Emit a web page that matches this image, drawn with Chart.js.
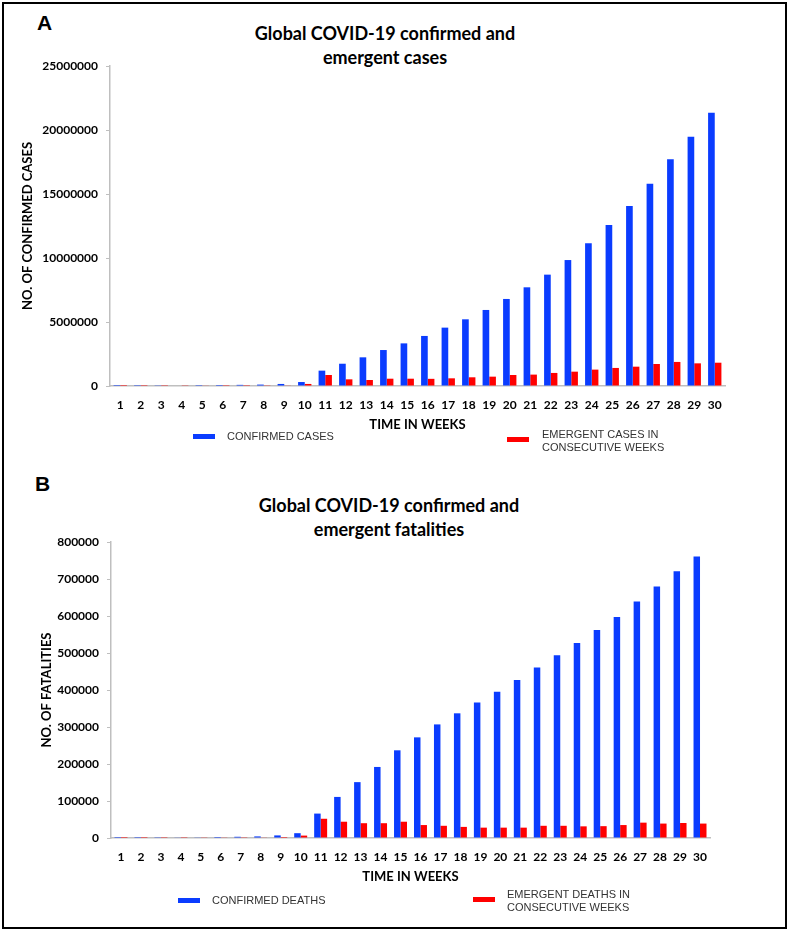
<!DOCTYPE html>
<html>
<head>
<meta charset="utf-8">
<script src="https://cdn.jsdelivr.net/npm/chart.js@4.4.1/dist/chart.umd.min.js"></script>
<style>
  body { margin: 0; background: #fff; width: 789px; height: 932px; position: relative; overflow: hidden; }
  #frame { position: absolute; left: 2px; top: 2px; width: 781px; height: 923px; border: 2px solid #000; }
  canvas { position: absolute; left: 0; }
  .panel { position: absolute; font: bold 21px "Liberation Sans", Arial, sans-serif; color: #000; }
  .title { position: absolute; width: 400px; text-align: center; font: bold 18px Lato, sans-serif; line-height: 24px; color: #000; }
  .legend { position: absolute; font: 11px "Liberation Sans", Arial, sans-serif; color: #333; line-height: 13px; }
  .legend i { position: absolute; left: 0; width: 22px; height: 5px; }
  .legend span { position: absolute; white-space: nowrap; }
</style>
</head>
<body>
<div id="frame"></div>

<div class="panel" style="left:37px; top:11px;">A</div>
<div class="title" style="left:185px; top:21px;">Global COVID-19 confirmed and<br>emergent cases</div>
<canvas id="chartA" width="789" height="466" style="top:0"></canvas>
<div class="legend" id="legA1" style="left:193px; top:434px;"></div>
<div class="legend" id="legA2" style="left:507px; top:437px;"></div>

<div class="panel" style="left:35px; top:472px;">B</div>
<div class="title" style="left:189px; top:493px;">Global COVID-19 confirmed and<br>emergent fatalities</div>
<canvas id="chartB" width="789" height="466" style="top:466px"></canvas>
<div class="legend" id="legB1" style="left:178px; top:898px;"></div>
<div class="legend" id="legB2" style="left:473px; top:897px;"></div>

<script>
// weeks
const weeks = ['1','2','3','4','5','6','7','8','9','10','11','12','13','14','15',
               '16','17','18','19','20','21','22','23','24','25','26','27','28','29','30'];

// A - cases
const confirmedCases = [600, 8000, 20000, 40000, 70000, 80000, 90000, 110000, 160000, 310000,
  1200000, 1740000, 2240000, 2810000, 3330000, 3910000, 4560000, 5210000, 5940000, 6800000,
  7710000, 8700000, 9840000, 11150000, 12580000, 14060000, 15810000, 17710000, 19480000, 21350000];
const emergentCases = [600, 7000, 12000, 20000, 30000, 10000, 10000, 20000, 50000, 160000,
  860000, 520000, 470000, 570000, 570000, 560000, 600000, 680000, 730000, 860000,
  890000, 1020000, 1120000, 1280000, 1410000, 1510000, 1720000, 1880000, 1770000, 1820000];

// B - deaths
const confirmedDeaths = [20, 170, 560, 1000, 1800, 2700, 3300, 4300, 7000, 13000,
  66000, 111000, 151000, 192000, 237000, 272000, 307000, 337000, 366000, 395000,
  427000, 461000, 494000, 527000, 562000, 597000, 639000, 680000, 721000, 761000];
const emergentDeaths = [20, 150, 390, 440, 800, 900, 600, 1000, 2700, 6500,
  52000, 44000, 40000, 40000, 44000, 35000, 33000, 30000, 28000, 28000,
  28000, 33000, 33000, 31500, 32000, 35000, 41500, 39000, 40500, 39000];

const blue = '#0a3cff';
const red = '#ff0000';
const axisGray = '#bfbfbf';

function makeChart(id, series, names, yMax, yStep, yTitle, pad, yTitlePad) {
  const ctx = document.getElementById(id).getContext('2d');
  return new Chart(ctx, {
    type: 'bar',
    data: {
      labels: weeks,
      datasets: [
        { label: names[0], data: series[0], backgroundColor: blue, borderWidth: 0 },
        { label: names[1], data: series[1], backgroundColor: red, borderWidth: 0 }
      ]
    },
    options: {
      responsive: false,
      animation: false,
      devicePixelRatio: 1,
      categoryPercentage: 0.65,
      barPercentage: 1.0,
      layout: { padding: pad },
      plugins: { legend: { display: false }, tooltip: { enabled: false } },
      scales: {
        x: {
          grid: { display: false, drawTicks: false },
          border: { display: true, color: axisGray, width: 1.5 },
          ticks: {
            color: '#000', autoSkip: false, maxRotation: 0, padding: 12,
            font: { family: 'Lato', weight: 'bold', size: 12 }
          },
          title: {
            display: true, text: 'TIME IN WEEKS', color: '#000',
            font: { family: 'Lato', weight: 'bold', size: 13 },
            padding: { top: 0, bottom: 3 }
          },
          afterFit: function(scale) { scale.height = 50; }
        },
        y: {
          min: 0, max: yMax,
          grid: { display: true, drawOnChartArea: false, drawTicks: true, tickLength: 4, color: axisGray },
          border: { display: true, color: axisGray, width: 1.5 },
          ticks: {
            stepSize: yStep, color: '#000', padding: 8,
            font: { family: 'Lato', weight: 'bold', size: 12 },
            callback: function(v) { return String(v); }
          },
          title: {
            display: true, text: yTitle, color: '#000',
            font: { family: 'Lato', weight: 'bold', size: 13 },
            padding: { top: yTitlePad, bottom: 0 }
          },
          afterFit: function(scale) { scale.width = 100; }
        }
      }
    }
  });
}

const chartA = makeChart('chartA', [confirmedCases, emergentCases],
  ['CONFIRMED CASES', 'EMERGENT CASES IN CONSECUTIVE WEEKS'],
  25000000, 5000000, 'NO. OF CONFIRMED CASES',
  { left: 10, top: 66, right: 64, bottom: 30 }, 10);

const chartB = makeChart('chartB', [confirmedDeaths, emergentDeaths],
  ['CONFIRMED DEATHS', 'EMERGENT DEATHS IN CONSECUTIVE WEEKS'],
  800000, 100000, 'NO. OF FATALITIES',
  { left: 11, top: 76, right: 79, bottom: 44 }, 28);

// legends (html)
function legend(id, color, lines, textLeft) {
  const el = document.getElementById(id);
  const mark = document.createElement('i');
  mark.style.background = color;
  mark.style.top = (lines.length > 1 ? 0 : 0) + 'px';
  el.appendChild(mark);
  lines.forEach(function(t, i) {
    const s = document.createElement('span');
    s.textContent = t;
    s.style.left = textLeft + 'px';
    s.style.top = (lines.length > 1 ? -9 + i * 13 : -4) + 'px';
    el.appendChild(s);
  });
}
legend('legA1', blue, ['CONFIRMED CASES'], 34);
legend('legA2', red, ['EMERGENT CASES IN', 'CONSECUTIVE WEEKS'], 35);
legend('legB1', blue, ['CONFIRMED DEATHS'], 34);
legend('legB2', red, ['EMERGENT DEATHS IN', 'CONSECUTIVE WEEKS'], 34);
</script>
</body>
</html>
